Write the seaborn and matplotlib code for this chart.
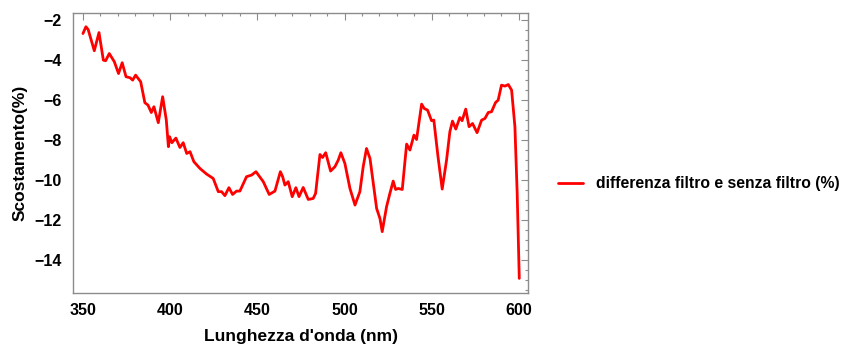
import numpy as np
import pandas as pd
import matplotlib
matplotlib.use("Agg")
import matplotlib.pyplot as plt
from matplotlib.ticker import MultipleLocator
import seaborn as sns

# wavelength (nm) and deviation (%)
wavelength = [350.0, 351.7, 353.0, 356.5, 359.2, 361.7, 363.0, 365.1, 368.0, 370.4,
              372.5, 374.7, 377.0, 378.5, 380.2, 383.1, 385.5, 387.3, 389.2, 390.7,
              393.2, 395.7, 397.8, 399.0, 399.7, 401.0, 403.3, 405.6, 407.5, 409.5,
              411.4, 413.6, 417.1, 420.9, 424.7, 427.6, 429.5, 431.4, 433.7, 435.8,
              438.1, 440.0, 443.8, 446.7, 449.2, 453.4, 456.8, 460.1, 463.2, 464.5,
              465.8, 467.7, 470.0, 472.1, 473.9, 476.3, 479.2, 482.0, 483.4, 485.9,
              487.4, 489.2, 492.0, 494.5, 496.4, 497.9, 500.2, 503.1, 506.0, 508.8,
              510.7, 512.6, 514.6, 518.4, 520.3, 521.6, 524.1, 526.0, 527.9, 529.3,
              530.8, 533.1, 535.6, 537.5, 539.8, 541.3, 544.2, 545.7, 547.6, 549.9,
              551.2, 553.6, 556.0, 558.5, 560.4, 561.9, 563.8, 566.1, 567.4, 569.5,
              571.4, 573.4, 576.0, 578.6, 580.5, 582.4, 584.3, 586.6, 588.1, 590.0,
              592.0, 593.9, 595.8, 597.7, 599.0, 600.2]
deviation = [-2.67, -2.33, -2.47, -3.53, -2.62, -4.00, -4.03, -3.67, -4.08, -4.67,
             -4.13, -4.83, -4.88, -5.00, -4.75, -5.08, -6.13, -6.25, -6.62, -6.33,
             -7.13, -5.83, -7.00, -8.33, -7.83, -8.13, -7.90, -8.37, -8.13, -8.67,
             -8.58, -9.08, -9.42, -9.70, -9.92, -10.58, -10.58, -10.78, -10.38, -10.72,
             -10.55, -10.55, -9.83, -9.75, -9.58, -10.08, -10.72, -10.55, -9.58, -9.83,
             -10.25, -10.08, -10.83, -10.38, -10.83, -10.37, -10.97, -10.92, -10.67, -8.72,
             -8.87, -8.63, -9.55, -9.33, -9.00, -8.63, -9.17, -10.42, -11.25, -10.58,
             -9.33, -8.42, -8.92, -11.42, -11.92, -12.58, -11.33, -10.67, -10.05, -10.47,
             -10.42, -10.47, -8.20, -8.50, -7.75, -7.97, -6.20, -6.42, -6.50, -7.03,
             -7.00, -8.83, -10.45, -9.00, -7.58, -7.05, -7.45, -6.87, -7.03, -6.45,
             -7.33, -7.17, -7.63, -7.00, -6.92, -6.62, -6.58, -6.12, -6.00, -5.25,
             -5.30, -5.22, -5.50, -7.33, -10.67, -14.92]

series_name = "differenza filtro e senza filtro (%)"
x_ticks = [350, 400, 450, 500, 550, 600]
y_ticks = [-2, -4, -6, -8, -10, -12, -14]

df = pd.DataFrame({"x": wavelength, "y": deviation, "serie": series_name})

sns.set_style("white")
plt.rcParams["font.family"] = ["Liberation Sans", "DejaVu Sans"]
plt.rcParams["font.weight"] = "bold"
plt.rcParams["text.color"] = "black"
plt.rcParams["axes.labelcolor"] = "black"

fig = plt.figure(figsize=(8.65, 3.52), dpi=100)
ax = fig.add_axes([0.0844, 0.1676, 0.526, 0.795])

sns.lineplot(data=df, x="x", y="y", hue="serie", palette=["#ff0000"],
             linewidth=2.0, ax=ax, sort=False)
for ln in ax.get_lines():
    ln.set_solid_joinstyle("round")

ax.set_xlim(344.3, 605.2)
ax.set_ylim(-15.65, -1.65)
ax.set_xticks(x_ticks)
ax.set_yticks(y_ticks)
ax.xaxis.set_minor_locator(MultipleLocator(10))
ax.yaxis.set_minor_locator(MultipleLocator(0.5))

frame_col = "#8c8c8c"
for sp in ax.spines.values():
    sp.set_color(frame_col)
    sp.set_linewidth(1.0)
ax.tick_params(which="both", direction="in", top=True, right=True,
               color=frame_col, width=0.8, labelsize=11.5, labelcolor="black")
ax.tick_params(which="major", length=5)
ax.tick_params(which="minor", length=2.5)
ax.tick_params(axis="x", which="major", labeltop=False, pad=7)
ax.tick_params(axis="y", which="major", labelright=False, pad=8)

ax.set_xlabel("Lunghezza d'onda (nm)", fontsize=12.5, fontweight="bold",
              labelpad=8, color="black")
ax.set_ylabel("Scostamento(%)", fontsize=12.5, fontweight="bold",
              labelpad=5, color="black")

leg = ax.legend(loc="center left", bbox_to_anchor=(1.035, 0.39), frameon=False,
                prop={"weight": "bold", "size": 11.3}, handlelength=1.6,
                handletextpad=0.8, labelcolor="black")

fig.savefig("out.png", dpi=100)
